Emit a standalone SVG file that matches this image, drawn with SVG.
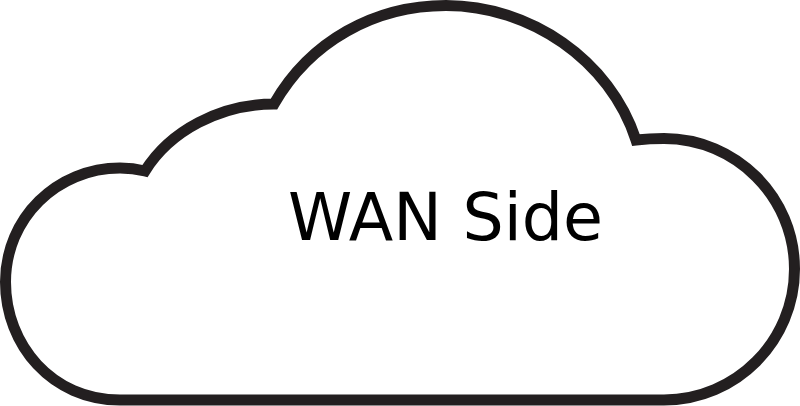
<svg xmlns="http://www.w3.org/2000/svg" width="800" height="406" viewBox="0 0 800 406">
<style>.c{fill:#fff;stroke:#231f20;stroke-width:11;stroke-linejoin:miter}.t{font-family:"DejaVu Sans",sans-serif;font-size:65px;fill:#000}</style>
<rect width="800" height="406" fill="#fff"/>
<g id="cloud">
<path class="c" d="M120 400 C52 400 5.500 345 5.500 282 C5.500 218 57 168 120 168 C128 168 137 169 145 171 C170 131 220 104 274 104 C310 41 375 5.500 446 5.500 C530 5.500 610 60 636 140 C645 139 655 138.500 664 138.500 C736 138.500 794.500 197 794.500 269 C794.500 341 736 400 664 400 Z"/>
<text class="t" x="288" y="240">WAN Side</text>
</g>
</svg>
